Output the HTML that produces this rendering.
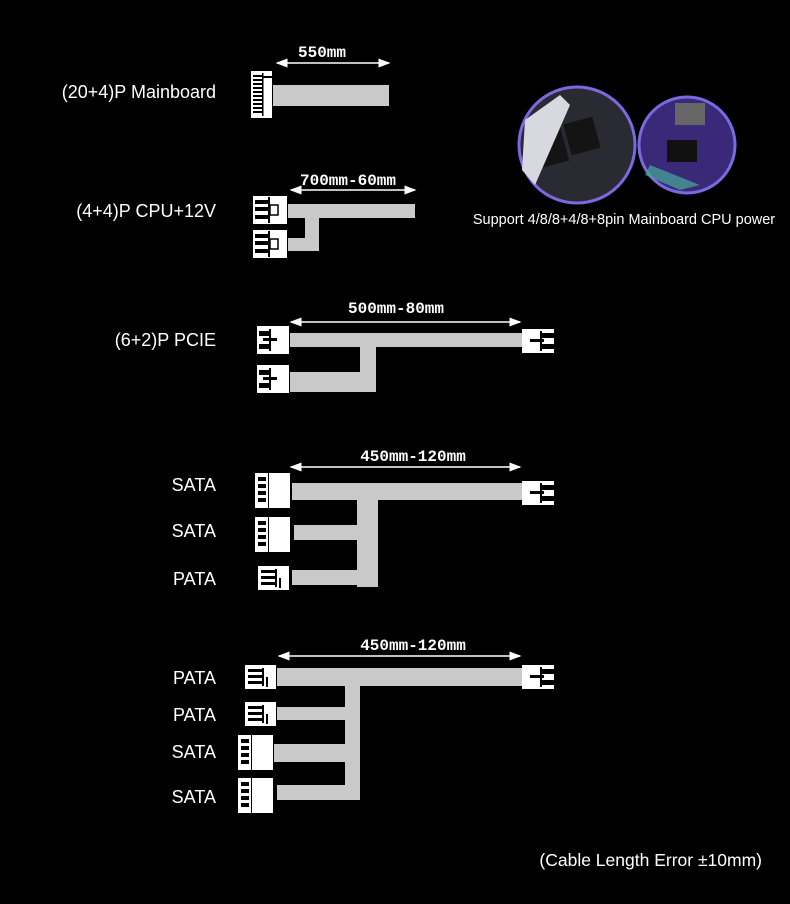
<!DOCTYPE html>
<html><head><meta charset="utf-8"><style>
html,body{margin:0;padding:0;background:#000;}
svg{display:block}
text{font-family:"Liberation Sans",sans-serif;fill:#fff}
.lab{font-size:18px;text-anchor:end}
.dim{font-family:"Liberation Mono",monospace;font-size:16px;text-anchor:middle;font-weight:bold}
.c{fill:#c9c9c9}
</style></head><body>
<svg width="790" height="904" viewBox="0 0 790 904" xmlns="http://www.w3.org/2000/svg">
<defs>
<marker id="ah" markerWidth="8" markerHeight="8" refX="7" refY="4" orient="auto-start-reverse"><path d="M0,1 L8,4 L0,7 z" fill="#fff"/></marker>
<g id="sata"><rect x="0" y="0" width="13" height="35" fill="#fff"/><rect x="3" y="4" width="8" height="4" fill="#000"/><rect x="3" y="11" width="8" height="4" fill="#000"/><rect x="3" y="18" width="8" height="4" fill="#000"/><rect x="3" y="25" width="8" height="4" fill="#000"/><rect x="14" y="0" width="21" height="35" fill="#fff"/></g>
<g id="pata"><rect x="0" y="0" width="31" height="24" fill="#fff"/><rect x="3" y="4" width="14" height="3" fill="#000"/><rect x="3" y="10" width="14" height="3" fill="#000"/><rect x="3" y="16" width="14" height="3" fill="#000"/><rect x="17" y="3" width="2" height="18" fill="#000"/><rect x="21" y="12" width="2" height="10" fill="#000"/></g>
<g id="pcie"><rect x="0" y="0" width="32" height="28" fill="#fff"/><rect x="2" y="5" width="10" height="5" fill="#000"/><rect x="2" y="18" width="10" height="5" fill="#000"/><rect x="12" y="3" width="2" height="22" fill="#000"/><rect x="6" y="12" width="14" height="3" fill="#000"/></g>
<g id="pcier"><rect x="0" y="0" width="32" height="24" fill="#fff"/><rect x="20" y="4" width="12" height="5" fill="#000"/><rect x="20" y="15" width="12" height="5" fill="#000"/><rect x="18" y="2" width="2" height="20" fill="#000"/><rect x="8" y="10" width="14" height="3" fill="#000"/></g>
<g id="cpu"><rect x="0" y="0" width="34" height="28" fill="#fff"/><rect x="2" y="4" width="13" height="4" fill="#000"/><rect x="2" y="11" width="13" height="4" fill="#000"/><rect x="2" y="19" width="13" height="4" fill="#000"/><rect x="15" y="1" width="2" height="26" fill="#000"/><rect x="17" y="9" width="8" height="10" fill="none" stroke="#000" stroke-width="1.5"/></g>
</defs>

<text class="lab" x="216" y="98">(20+4)P Mainboard</text>
<text class="dim" x="322" y="57">550mm</text>
<line x1="277" y1="63" x2="389" y2="63" stroke="#fff" stroke-width="1.5" marker-start="url(#ah)" marker-end="url(#ah)"/>
<rect x="251" y="71" width="21" height="47" fill="#fff"/>
<g fill="#000"><rect x="253" y="75" width="9" height="2"/><rect x="253" y="79" width="9" height="2"/><rect x="253" y="83" width="9" height="2"/><rect x="253" y="87" width="9" height="2"/><rect x="253" y="91" width="9" height="2"/><rect x="253" y="95" width="9" height="2"/><rect x="253" y="99" width="9" height="2"/><rect x="253" y="103" width="9" height="2"/><rect x="253" y="107" width="9" height="2"/><rect x="253" y="111" width="9" height="2"/><rect x="262" y="73" width="1.5" height="43"/><rect x="262" y="76" width="10" height="2"/></g>
<rect class="c" x="273" y="85" width="116" height="21"/>

<text class="lab" x="216" y="217">(4+4)P CPU+12V</text>
<text class="dim" x="348" y="185">700mm-60mm</text>
<line x1="291" y1="190" x2="415" y2="190" stroke="#fff" stroke-width="1.5" marker-start="url(#ah)" marker-end="url(#ah)"/>
<use href="#cpu" x="253" y="196"/>
<use href="#cpu" x="253" y="230"/>
<rect class="c" x="288" y="204" width="127" height="14"/>
<rect class="c" x="305" y="218" width="14" height="33"/>
<rect class="c" x="288" y="238" width="31" height="13"/>

<text class="lab" x="216" y="346">(6+2)P PCIE</text>
<text class="dim" x="396" y="313">500mm-80mm</text>
<line x1="291" y1="322" x2="520" y2="322" stroke="#fff" stroke-width="1.5" marker-start="url(#ah)" marker-end="url(#ah)"/>
<use href="#pcie" x="257" y="326"/>
<use href="#pcie" x="257" y="365"/>
<rect class="c" x="290" y="333" width="232" height="14"/>
<rect class="c" x="360" y="347" width="16" height="45"/>
<rect class="c" x="290" y="372" width="86" height="20"/>
<use href="#pcier" x="522" y="329"/>

<text class="lab" x="216" y="491">SATA</text>
<text class="lab" x="216" y="537">SATA</text>
<text class="lab" x="216" y="585">PATA</text>
<text class="dim" x="413" y="461">450mm-120mm</text>
<line x1="291" y1="467" x2="520" y2="467" stroke="#fff" stroke-width="1.5" marker-start="url(#ah)" marker-end="url(#ah)"/>
<use href="#sata" x="255" y="473"/>
<use href="#sata" x="255" y="517"/>
<use href="#pata" x="258" y="566"/>
<rect class="c" x="292" y="483" width="230" height="17"/>
<rect class="c" x="357" y="500" width="21" height="87"/>
<rect class="c" x="294" y="525" width="63" height="15"/>
<rect class="c" x="292" y="570" width="65" height="15"/>
<use href="#pcier" x="522" y="481"/>

<text class="lab" x="216" y="684">PATA</text>
<text class="lab" x="216" y="721">PATA</text>
<text class="lab" x="216" y="758">SATA</text>
<text class="lab" x="216" y="803">SATA</text>
<text class="dim" x="413" y="650">450mm-120mm</text>
<line x1="279" y1="656" x2="520" y2="656" stroke="#fff" stroke-width="1.5" marker-start="url(#ah)" marker-end="url(#ah)"/>
<use href="#pata" x="245" y="665"/>
<use href="#pata" x="245" y="702"/>
<use href="#sata" x="238" y="735"/>
<use href="#sata" x="238" y="778"/>
<rect class="c" x="277" y="668" width="245" height="18"/>
<rect class="c" x="345" y="686" width="15" height="114"/>
<rect class="c" x="277" y="707" width="68" height="13"/>
<rect class="c" x="274" y="744" width="71" height="18"/>
<rect class="c" x="277" y="785" width="68" height="15"/>
<use href="#pcier" x="522" y="665"/>

<circle cx="577" cy="145" r="58" fill="#2a2a33" stroke="#7a6ae0" stroke-width="3"/>
<rect x="535" y="130" width="30" height="35" fill="#141414" transform="rotate(-15 550 147)"/>
<rect x="567" y="120" width="30" height="32" fill="#141414" transform="rotate(-15 582 136)"/>
<path d="M525,120 L560,95 L570,105 L535,185 L522,170z" fill="#d8d8e0"/>
<circle cx="687" cy="145" r="48" fill="#3a2878" stroke="#7a6ae0" stroke-width="3"/>
<rect x="667" y="140" width="30" height="22" fill="#111"/>
<rect x="675" y="103" width="30" height="22" fill="#666"/>
<path d="M650,165 L700,185 L680,190 L645,175z" fill="#4a9" opacity="0.7"/>
<text x="624" y="224" style="font-size:14.5px;text-anchor:middle">Support 4/8/8+4/8+8pin Mainboard  CPU power</text>

<text x="762" y="866" style="font-size:17.5px;text-anchor:end">(Cable Length Error ±10mm)</text>
</svg>
</body></html>
